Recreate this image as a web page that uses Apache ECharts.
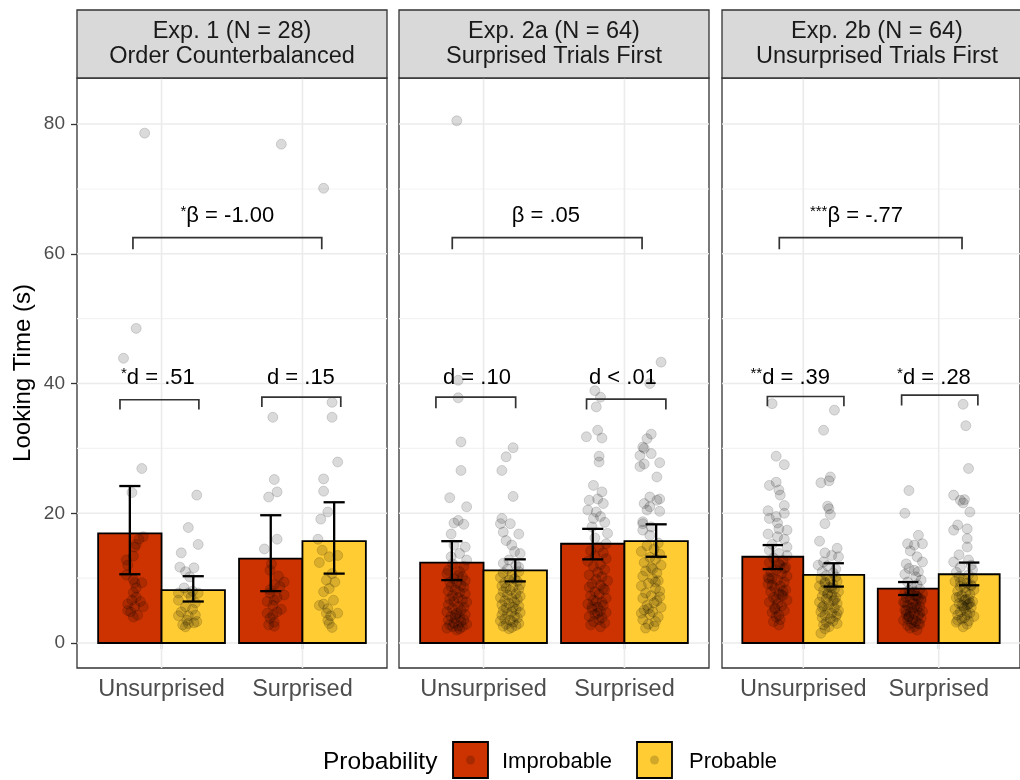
<!DOCTYPE html>
<html><head><meta charset="utf-8">
<script src="https://cdn.jsdelivr.net/npm/echarts@6.0.0/dist/echarts.min.js"></script>
<style>html,body{margin:0;padding:0;background:#fff}#c{width:1020px;height:780px}</style>
</head><body><div id="c"></div><script>
// ---------------- data ----------------
const categories = ['Unsurprised', 'Surprised'];
const conditions = ['Improbable', 'Probable'];
const legendTitle = 'Probability';
const yTitle = 'Looking Time (s)';
const panelTitles = [
  ['Exp. 1 (N = 28)', 'Order Counterbalanced'],
  ['Exp. 2a (N = 64)', 'Surprised Trials First'],
  ['Exp. 2b (N = 64)', 'Unsurprised Trials First']
];
const yTicks = [0, 20, 40, 60, 80];
const yMinorTicks = [10, 30, 50, 70];
// order of bar values: Unsurprised-Improbable, Unsurprised-Probable, Surprised-Improbable, Surprised-Probable
const exp1Means = [16.9, 8.15, 13.0, 15.7];
const exp1Lower = [10.6, 6.4, 8.0, 10.7];
const exp1Upper = [24.2, 10.3, 19.7, 21.7];
const exp2aMeans = [12.4, 11.2, 15.3, 15.7];
const exp2aLower = [9.7, 9.5, 12.9, 13.3];
const exp2aUpper = [15.7, 12.9, 17.6, 18.3];
const exp2bMeans = [13.3, 10.5, 8.4, 10.6];
const exp2bLower = [11.4, 8.7, 7.4, 8.9];
const exp2bUpper = [15.1, 12.3, 9.4, 12.4];
const exp1PairLabels = ['*d = .51', 'd = .15'];
const exp2aPairLabels = ['d = .10', 'd < .01'];
const exp2bPairLabels = ['**d = .39', '*d = .28'];
const betaLabels = ['*β = -1.00', 'β = .05', '***β = -.77'];

// individual looking times: [horizontal jitter (axis units), seconds]
const exp1UnsurprisedImprobable = [[.07,78.6],[.01,48.5],[-.08,43.9],[.05,26.9],[-.02,23.2],[.06,16.4],[.03,16.0],[.01,15.2],[0,14.8],[-.01,13.4],[-.06,12.8],[-.05,12.0],[-.06,10.5],[-.01,9.8],[0,9.3],[.05,9.3],[.01,8.5],[-.01,7.8],[.01,7.1],[-.02,6.6],[.04,6.4],[-.05,6.0],[0,5.6],[.06,5.6],[-.05,5.0],[-.03,4.8],[.02,4.3],[-.01,4.0]];
const exp1UnsurprisedProbable = [[.06,22.8],[0,17.8],[.07,15.2],[-.05,13.9],[-.06,11.7],[.04,11.6],[-.02,11.0],[.01,10.2],[-.03,8.5],[.03,8.0],[-.07,7.7],[0,7.7],[.07,7.7],[.02,7.1],[-.07,6.6],[.05,6.2],[-.02,5.6],[.03,5.2],[-.05,4.8],[.05,4.3],[-.07,4.2],[0,4.2],[-.01,3.5],[.06,3.3],[.04,3.1],[0,3.0],[-.04,2.8],[-.02,2.5]];
const exp1SurprisedImprobable = [[.04,76.9],[-.02,34.8],[-.01,25.2],[.01,23.3],[-.05,22.5],[.01,16.0],[-.08,14.5],[-.03,12.2],[-.04,11.2],[.02,10.3],[.06,9.4],[-.01,9.0],[.03,8.7],[-.04,8.2],[-.04,7.7],[.06,7.4],[.01,7.0],[-.01,6.6],[-.06,6.4],[-.02,5.8],[.04,5.2],[.01,4.8],[-.06,4.6],[-.02,4.3],[-.04,3.8],[-.01,3.2],[-.05,2.8],[-.01,2.6]];
const exp1SurprisedProbable = [[-.04,70.1],[.02,37.1],[.02,34.8],[.06,27.9],[-.04,25.3],[-.04,23.4],[-.01,20.2],[-.06,19.1],[-.08,16.0],[-.05,14.3],[.06,13.5],[0,13.3],[-.07,12.4],[.02,10.7],[-.02,9.7],[.04,9.4],[0,8.4],[-.04,7.9],[.03,6.6],[-.04,6.0],[-.07,5.8],[-.01,5.3],[-.02,4.6],[.06,4.6],[.01,4.2],[-.01,3.5],[0,3.0],[.02,2.4]];

const exp2aUnsurprisedImprobable = [[0,80.5],[.01,40.5],[.01,37.8],[.03,31.0],[.03,26.6],[-.05,22.4],[.07,21.0],[.01,18.9],[-.02,18.5],[.05,18.3],[-.04,16.8],[-.02,15.1],[.06,14.8],[.02,13.8],[-.04,13.3],[.07,12.8],
 [-.03,12.2],[.05,11.8],[-.06,11.2],[.02,11.0],[-.07,10.7],[.01,10.4],[.04,10.2],[-.02,9.9],[.06,9.6],[-.05,9.4],[0,9.3],[.03,8.9],[-.04,8.7],[.05,8.6],[-.01,8.2],[-.06,8.0],[.02,7.8],[.06,7.6],[-.03,7.3],[.01,7.0],[-.05,6.8],[.04,6.6],[-.02,6.4],[.07,6.3],[-.06,5.9],[.01,5.6],[.05,5.5],[-.03,5.3],[.03,5.0],[-.07,4.8],[0,4.6],[.06,4.4],[-.04,4.1],[.02,4.0],[-.01,3.8],[.05,3.6],[-.06,3.5],[.03,3.3],[-.02,3.1],[.07,2.9],[-.05,2.8],[.01,2.6],[-.03,2.5],[.04,2.5],[-.07,2.3],[.02,2.2],[0,2.0],[-.01,4.3]];
const exp2aUnsurprisedProbable = [[.02,30.1],[-.03,28.7],[-.06,26.6],[.02,22.6],[-.06,19.2],[-.07,18.4],[0,18.4],[-.05,17.1],[.06,16.8],[-.03,15.8],[.01,15.1],[.03,14.1],[.07,13.8],[-.01,12.8],[-.05,12.3],[.06,11.7],
 [.04,12.0],[-.02,11.4],[.06,11.0],[-.05,10.8],[.01,10.5],[-.07,10.1],[.03,9.9],[-.01,9.7],[.05,9.5],[-.04,9.3],[.07,9.0],[-.06,8.8],[.02,8.6],[-.03,8.5],[.06,8.3],[0,8.1],[-.05,7.9],[.04,7.6],[-.02,7.4],[.07,7.2],[-.07,7.0],[.01,6.9],[.05,6.7],[-.04,6.5],[.03,6.3],[-.01,6.1],[-.06,5.9],[.06,5.7],[.02,5.5],[-.03,5.4],[.04,5.2],[-.05,5.0],[.01,4.8],[.07,4.7],[-.02,4.5],[-.06,4.3],[.03,4.1],[.05,3.9],[-.04,3.7],[0,3.5],[-.07,3.4],[.02,3.2],[.06,3.0],[-.03,2.9],[.04,2.7],[-.05,2.6],[.01,2.4],[-.01,2.2]];
const exp2aSurprisedImprobable = [[-.02,38.9],[.02,37.9],[-.01,36.4],[0,32.8],[-.08,31.8],[.03,31.6],[.01,28.8],[.01,27.9],[-.03,24.3],[.03,23.3],[0,22.2],[-.06,22.0],[.04,21.5],[-.07,20.5],[-.01,20.2],[.02,19.5],[-.03,19.2],[.05,18.6],[-.04,17.9],[.07,16.9],[-.02,16.2],[.06,15.3],
 [.01,14.8],[-.05,14.2],[.04,13.9],[-.02,13.4],[.06,13.0],[-.07,12.6],[.02,12.1],[-.03,11.8],[.05,11.3],[0,10.9],[-.06,10.5],[.03,10.2],[-.01,9.8],[.07,9.6],[-.04,9.1],[.02,8.9],[-.06,8.6],[.05,8.2],[-.02,7.9],[.01,7.5],[-.05,7.3],[.06,6.9],[-.03,6.6],[.03,6.3],[-.07,6.0],[.04,5.8],[0,5.5],[-.04,5.2],[.02,4.9],[.06,4.7],[-.02,4.4],[-.06,4.1],[.03,3.9],[.01,3.6],[-.03,3.3],[.05,3.1],[-.05,2.8],[.02,2.5],[-.01,6.4],[.04,8.4],[-.04,5.6],[0,4.6]];
const exp2aSurprisedProbable = [[.07,43.3],[-.01,40.0],[0,32.2],[-.03,31.5],[-.06,30.2],[-.05,30.0],[0,29.2],[-.08,28.9],[.06,27.8],[-.05,27.6],[-.08,27.2],[.04,25.6],[-.01,22.5],[.06,22.2],[.04,22.0],[-.05,21.5],[-.01,21.0],[-.03,20.5],[.06,20.3],[-.06,18.7],[-.06,18.4],[0,17.9],[-.06,17.4],[-.01,16.6],
 [.05,15.4],[-.03,15.0],[.02,14.5],[-.07,14.1],[.06,13.7],[-.01,13.2],[.03,12.9],[-.05,12.4],[.07,12.0],[0,11.6],[-.04,11.1],[.04,10.8],[-.06,10.3],[.01,9.9],[.05,9.6],[-.02,9.2],[-.07,8.8],[.03,8.4],[.06,8.0],[-.04,7.7],[0,7.3],[-.06,6.9],[.04,6.5],[.02,6.2],[-.03,5.8],[.07,5.5],[-.05,5.1],[.01,4.8],[-.01,4.4],[.05,4.0],[-.06,3.6],[.03,3.3],[-.02,2.9],[.02,2.6],[-.04,2.3],[.06,7.1],[-.02,5.3],[.03,9.4],[-.07,4.6],[.01,11.4]];

const exp2bUnsurprisedImprobable = [[-.04,36.9],[-.01,28.8],[.05,27.5],[-.01,24.8],[-.06,24.3],[.01,23.6],[.02,22.8],[.05,21.2],[-.07,20.4],[.05,20.0],[-.01,19.5],[-.06,19.2],[0,18.5],[.01,17.6],[.07,17.4],[-.07,16.8],[0,16.4],[.05,16.0],[-.04,15.2],[.07,14.8],[-.06,14.3],[.01,13.8],[.07,13.5],
 [-.03,13.1],[.04,12.7],[-.06,12.4],[.02,12.0],[.06,11.7],[-.01,11.3],[-.05,11.0],[.03,10.7],[.07,10.3],[-.04,10.0],[0,9.7],[.05,9.4],[-.07,9.1],[.02,8.8],[-.02,8.5],[.06,8.2],[-.05,7.9],[.01,7.6],[.04,7.3],[-.03,7.0],[.07,6.6],[-.06,6.3],[0,6.0],[.03,5.7],[-.02,5.4],[.05,5.0],[-.04,4.7],[.01,4.3],[-.01,4.0],[.02,3.6],[-.03,3.3],[.01,2.8],[-.06,9.9],[.04,8.0],[-.01,6.8],[.05,11.5],[-.07,10.1],[.03,7.4],[-.02,5.2],[.01,12.2],[-.04,8.9]];
const exp2bUnsurprisedProbable = [[.04,35.9],[-.04,32.8],[.01,25.6],[0,25.0],[-.06,24.7],[-.01,21.1],[0,20.7],[.01,19.8],[-.03,18.4],[-.07,15.7],[.06,14.6],[-.03,13.9],[.02,13.5],[.07,13.3],[-.04,12.5],[-.08,12.0],[-.01,11.9],[.05,11.4],[-.05,11.0],[.03,10.8],
 [-.02,10.4],[.05,10.2],[-.06,9.9],[.01,9.7],[.06,9.5],[-.03,9.2],[.03,9.0],[-.07,8.8],[0,8.6],[.04,8.3],[-.04,8.1],[.07,7.9],[-.01,7.7],[.02,7.4],[-.05,7.2],[.05,7.0],[-.02,6.8],[.03,6.5],[-.07,6.3],[.06,6.1],[0,5.9],[-.04,5.7],[.04,5.4],[-.01,5.2],[.07,5.0],[-.06,4.8],[.02,4.6],[-.03,4.3],[.05,4.1],[-.05,3.9],[.01,3.7],[.03,3.4],[-.02,3.2],[.06,3.0],[-.04,2.8],[0,2.5],[-.03,2.2],[-.06,1.5],[.04,6.6],[-.01,7.5],[.02,8.5],[-.05,5.5],[.06,4.5],[-.03,9.4]];
const exp2bSurprisedImprobable = [[-.03,23.5],[-.06,20.0],[.04,16.6],[-.04,15.3],[.07,15.3],[.01,15.1],[-.02,14.2],[.03,13.3],[.07,12.5],[-.05,12.2],[-.03,11.5],[.01,11.2],[.04,11.0],[-.06,10.6],[.02,10.2],[.06,9.7],[-.04,9.4],[.03,9.0],[-.01,8.7],
 [.05,8.3],[-.03,8.1],[.01,7.9],[-.06,7.8],[.07,7.6],[-.01,7.4],[.03,7.2],[-.05,7.0],[.04,6.9],[-.02,6.7],[.06,6.5],[-.07,6.3],[0,6.1],[.02,6.0],[-.04,5.8],[.05,5.6],[-.01,5.4],[.03,5.3],[-.06,5.1],[.07,4.9],[-.02,4.7],[.01,4.5],[-.05,4.4],[.04,4.2],[-.03,4.0],[.06,3.8],[0,3.6],[-.07,3.5],[.02,3.3],[-.01,3.1],[.05,2.9],[-.04,2.7],[.01,2.5],[-.02,2.3],[.03,2.0],[.06,6.8],[-.05,5.0],[.02,7.3],[-.03,4.1],[.04,3.0],[-.06,6.2],[.01,5.5],[-.02,7.7],[.05,4.6],[-.04,3.7]];
const exp2bSurprisedProbable = [[-.01,36.8],[.01,33.5],[.03,26.9],[-.08,22.8],[0,22.1],[-.03,22.0],[-.01,21.6],[.04,20.2],[-.05,18.2],[.02,17.6],[-.08,17.4],[.02,16.1],[.02,14.8],[-.04,13.6],[.03,12.8],[-.08,12.5],[.05,12.0],[-.03,11.7],[.06,11.3],[-.06,10.9],
 [.03,10.5],[-.04,10.2],[.06,10.0],[-.01,9.7],[-.07,9.5],[.02,9.2],[.05,9.0],[-.03,8.7],[0,8.5],[.07,8.2],[-.05,8.0],[.01,7.8],[.04,7.5],[-.02,7.3],[-.06,7.0],[.03,6.8],[0,6.6],[.06,6.4],[-.04,6.1],[.02,5.9],[-.01,5.7],[.05,5.5],[-.07,5.2],[.01,5.0],[-.03,4.8],[.04,4.6],[-.05,4.3],[.07,4.1],[0,3.9],[-.02,3.7],[.03,3.4],[-.06,3.2],[.02,2.9],[-.01,2.5],[.04,6.2],[-.02,5.8],[.01,6.7],[-.04,7.1],[.05,8.8],[-.03,9.4],[.02,4.4],[-.05,3.5],[0,5.4],[.03,6.0]];

// ---------------- layout / style ----------------
const FONT = "'Liberation Sans', Arial, Helvetica, sans-serif";
const COLORS = ['#CC3300', '#FFCC33'];
const GRID_LEFT = [77, 399, 722], GRID_TOP = 78, GRID_W = 310, GRID_H = 590;
const STRIP_TOP = 10;
const Y_MIN = -3.85, Y_MAX = 87.1;
const BAR_HALF = 0.45, POINT_DODGE = 0.19, CAP = 0.075;
const bracketLayout = [
  { pairs: [[0.705, 1.265, 37.5, 36.0], [1.712, 2.272, 37.9, 36.4]], pairText: [[0.974, 40.8], [1.989, 40.8]],
    beta: [0.797, 2.137, 62.5, 60.7], betaText: [1.467, 65.8] },
  { pairs: [[0.662, 1.228, 37.9, 36.2], [1.731, 2.294, 37.6, 36.0]], pairText: [[0.953, 40.8], [1.989, 40.8]],
    beta: [0.778, 2.125, 62.5, 60.7], betaText: [1.442, 65.8] },
  { pairs: [[0.735, 1.300, 38.0, 36.5], [1.726, 2.289, 38.2, 36.6]], pairText: [[0.904, 40.8], [1.965, 40.8]],
    beta: [0.823, 2.172, 62.5, 60.7], betaText: [1.393, 65.8] }
];

const panelMeans = [exp1Means, exp2aMeans, exp2bMeans];
const panelLower = [exp1Lower, exp2aLower, exp2bLower];
const panelUpper = [exp1Upper, exp2aUpper, exp2bUpper];
const panelPairLabels = [exp1PairLabels, exp2aPairLabels, exp2bPairLabels];
const panelPoints = [
  [exp1UnsurprisedImprobable, exp1UnsurprisedProbable, exp1SurprisedImprobable, exp1SurprisedProbable],
  [exp2aUnsurprisedImprobable, exp2aUnsurprisedProbable, exp2aSurprisedImprobable, exp2aSurprisedProbable],
  [exp2bUnsurprisedImprobable, exp2bUnsurprisedProbable, exp2bSurprisedImprobable, exp2bSurprisedProbable]
];

function splitStars(s) { const m = s.match(/^(\**)(.*)$/); return m[1] ? '{s|' + m[1] + '}{n|' + m[2] + '}' : '{n|' + m[2] + '}'; }
const richStyle = { s: { fontSize: 15, fontFamily: FONT, fill: '#000', verticalAlign: 'top', lineHeight: 24 },
                    n: { fontSize: 22, fontFamily: FONT, fill: '#000', lineHeight: 24 } };

const grids = [], xAxes = [], yAxes = [], series = [], graphics = [];
for (let p = 0; p < 3; p++) {
  grids.push({ left: GRID_LEFT[p], top: GRID_TOP, width: GRID_W, height: GRID_H, show: true,
    borderColor: '#333', borderWidth: 1.3, backgroundColor: '#fff' });
  xAxes.push({ type: 'value', gridIndex: p, min: 0.4, max: 2.6,
    axisLine: { show: false }, splitLine: { show: false },
    axisTick: { show: true, customValues: [1, 2], length: 6, lineStyle: { color: '#333', width: 1.3 } },
    axisLabel: { customValues: [1, 2], formatter: v => categories[Math.round(v) - 1] || '',
      fontSize: 23.5, fontFamily: FONT, color: '#4d4d4d', margin: 10 } });
  yAxes.push({ type: 'value', gridIndex: p, min: Y_MIN, max: Y_MAX,
    axisLine: { show: false }, splitLine: { show: false },
    axisTick: { show: p === 0, customValues: yTicks, length: 6, lineStyle: { color: '#333', width: 1.3 } },
    axisLabel: { show: p === 0, customValues: yTicks, fontSize: 19, fontFamily: FONT, color: '#4d4d4d', margin: 12 },
    name: p === 0 ? yTitle : '', nameLocation: 'middle', nameGap: 42,
    nameTextStyle: { fontSize: 24, fontFamily: FONT, color: '#000' } });

  // grid lines
  const gl = [];
  yTicks.forEach(v => gl.push([0, v]));
  yMinorTicks.forEach(v => gl.push([1, v]));
  [1, 2].forEach(v => gl.push([2, v]));
  series.push({ type: 'custom', xAxisIndex: p, yAxisIndex: p, z: 1, silent: true, data: gl,
    renderItem: (params, api) => {
      const cs = params.coordSys; const kind = api.value(0), v = api.value(1);
      if (kind === 2) { const x = api.coord([v, 0])[0];
        return { type: 'line', shape: { x1: x, y1: cs.y, x2: x, y2: cs.y + cs.height }, style: { stroke: '#ebebeb', lineWidth: 1.6 } }; }
      const y = api.coord([1, v])[1];
      return { type: 'line', shape: { x1: cs.x, y1: y, x2: cs.x + cs.width, y2: y },
        style: { stroke: kind === 0 ? '#ebebeb' : '#f3f3f3', lineWidth: kind === 0 ? 1.6 : 1.1 } };
    } });

  // bars
  const barData = [];
  for (let k = 0; k < 4; k++) barData.push([Math.floor(k / 2) + 1, k % 2, panelMeans[p][k], panelLower[p][k], panelUpper[p][k]]);
  series.push({ type: 'custom', xAxisIndex: p, yAxisIndex: p, z: 2, data: barData,
    renderItem: (params, api) => {
      const cat = api.value(0), cond = api.value(1), m = api.value(2);
      const x0 = cat + (cond ? 0 : -BAR_HALF), x1 = x0 + BAR_HALF;
      const a = api.coord([x0, m]), b = api.coord([x1, 0]);
      return { type: 'rect', shape: { x: a[0], y: a[1], width: b[0] - a[0], height: b[1] - a[1] },
        style: { fill: COLORS[cond], stroke: '#000', lineWidth: 1.8 } };
    } });

  // points
  for (let k = 0; k < 4; k++) {
    const cat = Math.floor(k / 2) + 1, cond = k % 2;
    series.push({ type: 'scatter', xAxisIndex: p, yAxisIndex: p, z: 3, silent: true,
      symbolSize: 10,
      itemStyle: { color: 'rgba(0,0,0,0.18)', borderColor: 'rgba(0,0,0,0.2)', borderWidth: 0.9 },
      data: panelPoints[p][k].map(d => [cat + (cond ? POINT_DODGE : -POINT_DODGE) + d[0], d[1]]) });
  }

  // error bars
  series.push({ type: 'custom', xAxisIndex: p, yAxisIndex: p, z: 4, data: barData,
    renderItem: (params, api) => {
      const cat = api.value(0), cond = api.value(1), lo = api.value(3), hi = api.value(4);
      const xc = cat + (cond ? BAR_HALF / 2 : -BAR_HALF / 2);
      const t = api.coord([xc, hi]), bt = api.coord([xc, lo]);
      const tl = api.coord([xc - CAP, hi]), tr = api.coord([xc + CAP, hi]);
      const bl = api.coord([xc - CAP, lo]), br = api.coord([xc + CAP, lo]);
      const st = { stroke: '#000', lineWidth: 2.3 };
      return { type: 'group', children: [
        { type: 'line', shape: { x1: t[0], y1: t[1], x2: bt[0], y2: bt[1] }, style: st },
        { type: 'line', shape: { x1: tl[0], y1: tl[1], x2: tr[0], y2: tr[1] }, style: st },
        { type: 'line', shape: { x1: bl[0], y1: bl[1], x2: br[0], y2: br[1] }, style: st } ] };
    } });

  // brackets
  const L = bracketLayout[p];
  series.push({ type: 'custom', xAxisIndex: p, yAxisIndex: p, z: 4, silent: true,
    data: [L.pairs[0], L.pairs[1], L.beta],
    renderItem: (params, api) => {
      const x0 = api.value(0), x1 = api.value(1), top = api.value(2), leg = api.value(3);
      const pts = [api.coord([x0, leg]), api.coord([x0, top]), api.coord([x1, top]), api.coord([x1, leg])];
      return { type: 'polyline', shape: { points: pts }, style: { stroke: '#333', lineWidth: 1.7, fill: null } };
    } });
  const texts = [panelPairLabels[p][0], panelPairLabels[p][1], betaLabels[p]];
  series.push({ type: 'custom', xAxisIndex: p, yAxisIndex: p, z: 5, silent: true,
    data: [[L.pairText[0][0], L.pairText[0][1], 0], [L.pairText[1][0], L.pairText[1][1], 1], [L.betaText[0], L.betaText[1], 2]],
    renderItem: (params, api) => {
      const c = api.coord([api.value(0), api.value(1)]);
      return { type: 'text', x: c[0], y: c[1],
        style: { text: splitStars(texts[api.value(2)]), rich: richStyle, align: 'center', verticalAlign: 'middle' } };
    } });

  // strip
  graphics.push({ type: 'rect', shape: { x: GRID_LEFT[p], y: STRIP_TOP, width: GRID_W, height: GRID_TOP - STRIP_TOP },
    style: { fill: '#d9d9d9', stroke: '#333', lineWidth: 1.3 }, z: 10 });
  graphics.push({ type: 'text', x: GRID_LEFT[p] + GRID_W / 2, y: 32, z: 11,
    style: { text: panelTitles[p][0], fontSize: 23.5, fontFamily: FONT, fill: '#1a1a1a', align: 'center', verticalAlign: 'middle' } });
  graphics.push({ type: 'text', x: GRID_LEFT[p] + GRID_W / 2, y: 57, z: 11,
    style: { text: panelTitles[p][1], fontSize: 23.5, fontFamily: FONT, fill: '#1a1a1a', align: 'center', verticalAlign: 'middle' } });
}

// legend
graphics.push({ type: 'text', x: 323, y: 762, style: { text: legendTitle, fontSize: 24.5, fontFamily: FONT, fill: '#000', verticalAlign: 'middle' } });
const keyX = [453, 637], labX = [502, 689];
for (let i = 0; i < 2; i++) {
  graphics.push({ type: 'rect', shape: { x: keyX[i], y: 742, width: 35, height: 36 }, style: { fill: COLORS[i], stroke: '#000', lineWidth: 1.8 } });
  graphics.push({ type: 'circle', shape: { cx: keyX[i] + 17.5, cy: 760, r: 4.5 }, style: { fill: 'rgba(0,0,0,0.18)' } });
  graphics.push({ type: 'text', x: labX[i], y: 762, style: { text: conditions[i], fontSize: 22, fontFamily: FONT, fill: '#000', verticalAlign: 'middle' } });
}

const chart = echarts.init(document.getElementById('c'), null, { renderer: 'canvas' });
chart.setOption({ backgroundColor: '#fff', animation: false, grid: grids, xAxis: xAxes, yAxis: yAxes, series: series, graphic: graphics });
</script></body></html>
